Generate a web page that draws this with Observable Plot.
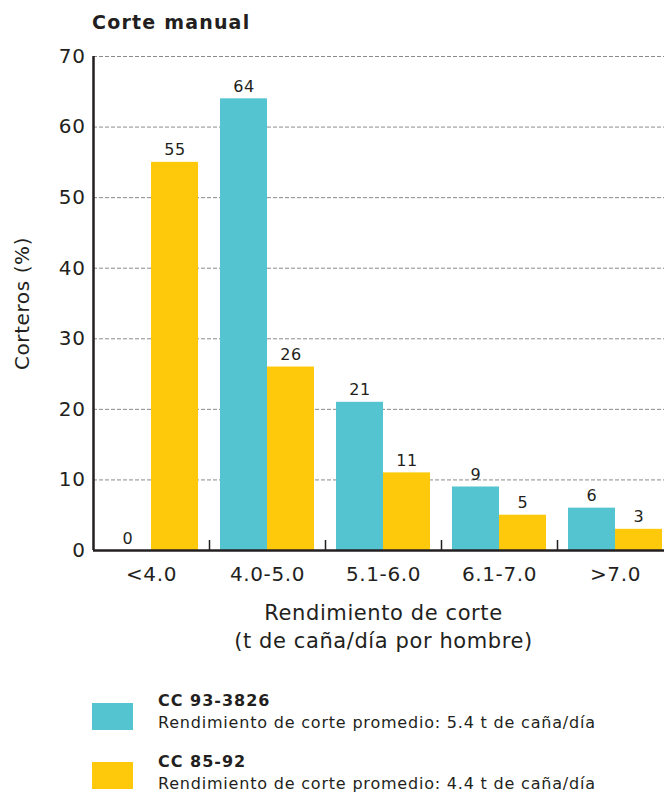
<!DOCTYPE html>
<html>
<head>
<meta charset="utf-8">
<script src="https://cdn.jsdelivr.net/npm/d3@7"></script>
<script src="https://cdn.jsdelivr.net/npm/@observablehq/plot@0.6"></script>
<style>
  html, body { margin: 0; padding: 0; background: #fff; overflow: hidden; }
  body { width: 664px; height: 794px; position: relative; font-family: "DejaVu Sans", Verdana, sans-serif; color: #231f20; }
  #title { position: absolute; left: 92px; top: 11px; font-size: 19px; font-weight: bold; letter-spacing: 1.2px; }
  #chart { position: absolute; left: 0; top: 40px; }
  .sw { position: absolute; left: 92px; width: 41px; height: 27px; }
  .lg { position: absolute; left: 158px; font-size: 16px; line-height: 22px; letter-spacing: 0.8px; white-space: nowrap; }
  .lg b { font-size: 16px; letter-spacing: 1px; }
</style>
</head>
<body>
<div id="title">Corte manual</div>
<div id="chart"></div>
<div id="legend"></div>
<script>
const categories = ["<4.0", "4.0-5.0", "5.1-6.0", "6.1-7.0", ">7.0"];
const seriesNames = ["CC 93-3826", "CC 85-92"];
const seriesNotes = [
  "Rendimiento de corte promedio: 5.4 t de caña/día",
  "Rendimiento de corte promedio: 4.4 t de caña/día"
];
const cc93 = [0, 64, 21, 9, 6];
const cc85 = [55, 26, 11, 5, 3];
const yTicks = [0, 10, 20, 30, 40, 50, 60, 70];
const colors = ["#54c5d0", "#fec90a"];
const ink = "#231f20";

const half = 58;
const chart = Plot.plot({
  width: 664,
  height: 620,
  marginLeft: 93,
  marginRight: -9,
  marginTop: 16,
  marginBottom: 110,
  style: { fontFamily: "DejaVu Sans", fontSize: "20px", color: ink, background: "transparent", letterSpacing: "0.6px" },
  x: { domain: categories, padding: 0, label: null },
  y: { domain: [0, 70], label: null },
  marks: [
    Plot.gridY(yTicks.filter(d => d > 0), { stroke: "#8a8a8a", strokeOpacity: 1, strokeDasharray: "4,2" }),
    Plot.barY(categories, { x: d => d, y: (d, i) => cc93[i], fill: colors[0], insetLeft: 11, insetRight: 58 }),
    Plot.barY(categories, { x: d => d, y: (d, i) => cc85[i], fill: colors[1], insetLeft: 58, insetRight: 11 }),
    Plot.text(categories, { x: d => d, y: (d, i) => cc93[i], text: (d, i) => String(cc93[i]), dx: -23.5, dy: -7, lineAnchor: "bottom", fontSize: 16, fill: ink }),
    Plot.text(categories, { x: d => d, y: (d, i) => cc85[i], text: (d, i) => String(cc85[i]), dx: 23.5, dy: -7, lineAnchor: "bottom", fontSize: 16, fill: ink }),
    Plot.ruleX(categories.slice(1), { x: d => d, dx: -half, insetTop: 484, stroke: ink, strokeWidth: 1.5 }),
    Plot.ruleX([categories[0]], { x: d => d, dx: -half, stroke: ink, strokeWidth: 2.5 }),
    Plot.ruleY([0], { stroke: ink, strokeWidth: 2.5 }),
    Plot.axisX({ tickSize: 0, tickPadding: 16, fontSize: 20, label: null }),
    Plot.axisY({ ticks: yTicks, tickSize: 0, tickPadding: 8, fontSize: 20, label: null }),
    Plot.text(["Corteros (%)"], { text: d => d, frameAnchor: "left", textAnchor: "middle", rotate: -90, dx: -71, fontSize: 20, fill: ink }),
    Plot.text(["Rendimiento de corte\n(t de caña/día por hombre)"], { text: d => d, frameAnchor: "bottom", lineAnchor: "top", dy: 50, lineHeight: 1.33, fontSize: 21, fill: ink })
  ]
});
document.getElementById("chart").appendChild(chart);

const legend = document.getElementById("legend");
const swTops = [703, 762];
const txTops = [690, 751];
seriesNames.forEach((name, i) => {
  const sw = document.createElement("div");
  sw.className = "sw";
  sw.style.top = swTops[i] + "px";
  sw.style.background = colors[i];
  legend.appendChild(sw);
  const t = document.createElement("div");
  t.className = "lg";
  t.style.top = txTops[i] + "px";
  t.innerHTML = "<b>" + name + "</b><br>" + seriesNotes[i];
  legend.appendChild(t);
});
</script>
</body>
</html>
